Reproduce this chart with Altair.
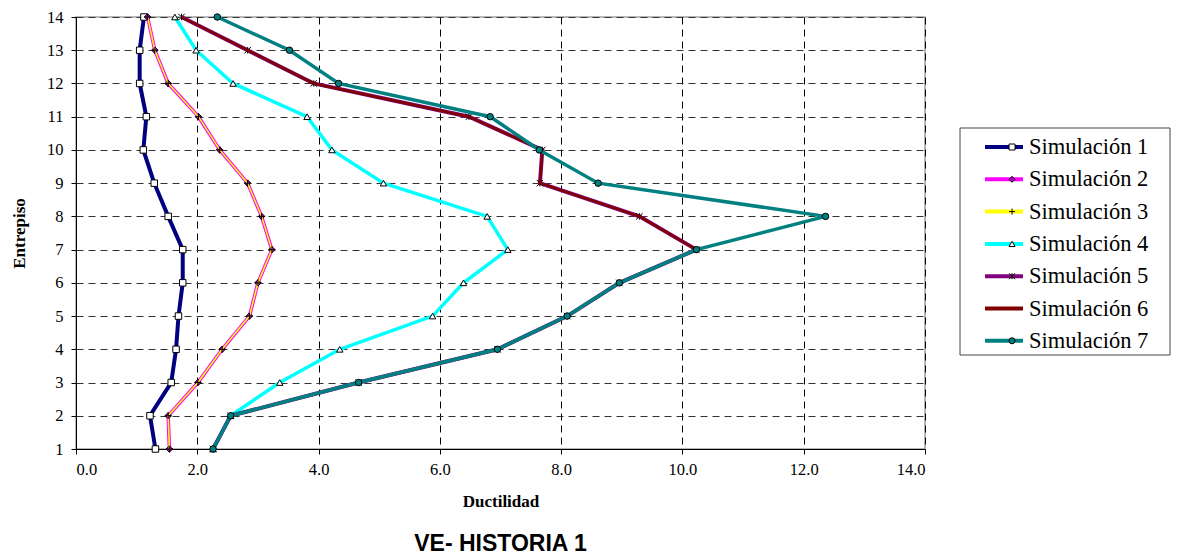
import altair as alt
import pandas as pd

pisos = list(range(1, 15))
series_names = ["Simulación 1", "Simulación 2", "Simulación 3", "Simulación 4",
                "Simulación 5", "Simulación 6", "Simulación 7"]
marker_ids = ["m1", "m2", "m3", "m4", "m5", "m6", "m7"]

sim1 = [1.31, 1.22, 1.57, 1.65, 1.69, 1.76, 1.76, 1.52, 1.29, 1.11, 1.16, 1.05, 1.05, 1.12]
sim2 = [1.54, 1.52, 2.01, 2.41, 2.86, 3.00, 3.23, 3.06, 2.83, 2.37, 2.02, 1.52, 1.30, 1.18]
sim3 = [1.54, 1.52, 2.01, 2.41, 2.86, 3.00, 3.23, 3.06, 2.83, 2.37, 2.02, 1.52, 1.30, 1.18]
sim4 = [2.26, 2.55, 3.36, 4.35, 5.88, 6.39, 7.12, 6.78, 5.07, 4.22, 3.81, 2.59, 1.98, 1.63]
sim5 = [2.26, 2.55, 4.66, 6.95, 8.10, 8.96, 10.23, 9.29, 7.65, 7.69, 6.48, 3.92, 2.83, 1.74]
sim6 = [2.26, 2.55, 4.66, 6.95, 8.10, 8.96, 10.23, 9.29, 7.65, 7.69, 6.48, 3.92, 2.83, 1.74]
sim7 = [2.26, 2.55, 4.66, 6.95, 8.10, 8.96, 10.23, 12.36, 8.61, 7.64, 6.83, 4.33, 3.52, 2.33]
all_sims = [sim1, sim2, sim3, sim4, sim5, sim6, sim7]

colors = ["#000080", "#FF00FF", "#FFFF00", "#00FFFF", "#800080", "#800000", "#008080"]
widths = [4, 3.5, 1.5, 3.5, 4, 2.5, 3.5]
shapes = ["square", "diamond", "M-1,0L1,0M0,-1L0,1", "triangle-up",
          "M-1,-1L1,1M-1,1L1,-1M0,-1L0,1", "M0,0", "circle"]
fills = ["white", "#C000C0", "black", "white", "black", "black", "#008080"]

rows = []
for name, mid, vals in zip(series_names, marker_ids, all_sims):
    for p, v in zip(pisos, vals):
        rows.append({"serie": name, "marca": mid, "piso": p, "ductilidad": v})
df = pd.DataFrame(rows)

serif = "Liberation Serif"

x_enc = alt.X("ductilidad:Q",
              scale=alt.Scale(domain=[0, 14], nice=False, zero=False),
              axis=alt.Axis(title="Ductilidad", values=list(range(0, 15, 2)), format=".1f",
                            titlePadding=16, labelPadding=7,
                            gridColor="black"))
y_enc = alt.Y("piso:Q",
              scale=alt.Scale(domain=[1, 14], nice=False, zero=False),
              axis=alt.Axis(title="Entrepiso", values=pisos, format="d",
                            titlePadding=18, labelPadding=8,
                            gridColor="#333333"))

color_scale = alt.Scale(domain=series_names, range=colors)
shape_scale = alt.Scale(domain=marker_ids, range=shapes)
fill_scale = alt.Scale(domain=marker_ids, range=fills)

color_legend = alt.Legend(title=None, orient="none", legendX=907, legendY=118,
                          symbolType="stroke", symbolSize=1444, symbolStrokeWidth=4,
                          labelOffset=4, clipHeight=24, rowPadding=8.3, padding=0,
                          symbolOffset=0, labelLimit=300)
marker_legend = alt.Legend(title=None, orient="none", legendX=907, legendY=118,
                           symbolSize=36, symbolStrokeWidth=1, labelExpr="''",
                           labelOffset=4, clipHeight=24, rowPadding=8.3, padding=0,
                           symbolOffset=17.8)

base = alt.Chart(df)
layers = []
for i, name in enumerate(series_names):
    sub = base.transform_filter(alt.datum.serie == name)
    line = sub.mark_line(strokeWidth=widths[i]).encode(
        x=x_enc, y=y_enc, order=alt.Order("piso:Q"),
        color=alt.Color("serie:N", scale=color_scale,
                        legend=color_legend if i == 0 else None),
    )
    layers.append(line)
    pts = sub.mark_point(filled=False, stroke="black", strokeWidth=1,
                         size=42, opacity=1).encode(
        x=x_enc, y=y_enc,
        shape=alt.Shape("marca:N", scale=shape_scale,
                        legend=marker_legend if i == 0 else None),
        fill=alt.Fill("marca:N", scale=fill_scale,
                      legend=marker_legend if i == 0 else None),
    )
    layers.append(pts)

box_df = pd.DataFrame({"k": [0]})
box = alt.Chart(box_df).mark_rect(fill="transparent", stroke="#444444", strokeWidth=1).encode(
    x=alt.value(884), x2=alt.value(1094), y=alt.value(111), y2=alt.value(338))
layers.append(box)

chart = alt.layer(*layers).properties(
    width=849, height=432,
    background="white",
    title=alt.TitleParams("VE- HISTORIA 1", orient="bottom", anchor="middle",
                          font="Liberation Sans", fontSize=23, fontWeight="bold",
                          color="black", offset=23),
    autosize=alt.AutoSizeParams(type="none"),
    padding={"left": 68, "top": 9, "right": 247, "bottom": 108},
).configure_view(
    stroke="#a0a0a0", strokeWidth=1.5
).configure_axis(
    labelFont=serif, labelFontSize=16.5, labelColor="black",
    titleFont=serif, titleFontSize=17, titleFontWeight="bold", titleColor="black",
    tickSize=5, tickColor="black", domainColor="black",
    grid=True, gridDash=[7, 5], gridWidth=1, gridOpacity=1,
).configure_legend(
    labelFont=serif, labelFontSize=22.5, labelColor="black",
)

chart.save("out.html", embed_options={"renderer": "svg", "actions": False})
